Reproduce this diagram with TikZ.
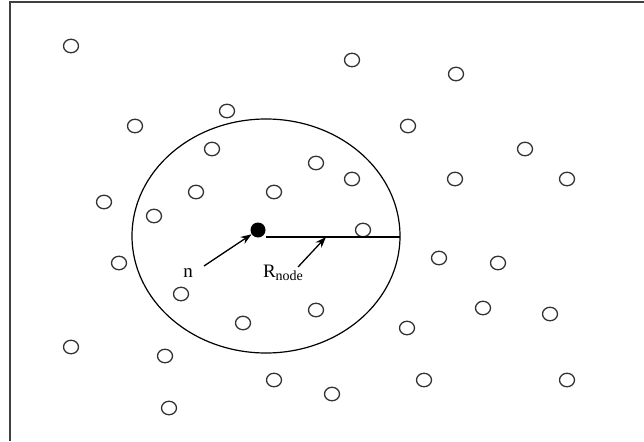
\documentclass[tikz,border=0pt]{standalone}
\usepackage{fontspec}
\setmainfont{Liberation Serif}
\usetikzlibrary{arrows.meta,shapes.geometric}
\begin{document}
\begin{tikzpicture}[x=1pt,y=-1pt,
  sensor/.style={draw=black!80,line width=1.3pt,ellipse,minimum width=15pt,minimum height=13.5pt,inner sep=0pt},
  headnode/.style={fill=black,circle,minimum size=15pt,inner sep=0pt},
  lbl/.style={font=\fontsize{19}{21}\selectfont,inner sep=0pt,anchor=base},
  pointer/.style={-{Stealth[length=11pt,width=8pt]},line width=1.3pt}]
\useasboundingbox (0,0) rectangle (644,441);
\draw[line width=1.6pt,black!75] (644,2) -- (10,2) -- (10,441);
\node[draw,ellipse,line width=1.2pt,minimum width=268pt,minimum height=234pt,inner sep=0pt] (range) at (266,236) {};
\foreach \px/\py [count=\i] in {71/46,352/60,456/74,135/126,227/111,408/126,212/149,316/163,525/149,196/192,274/192,352/179,455/179,567/179,104/202,154/216,363/230,119/263,439/258,498/263,181/294,483/308,550/314,316/310,243/323,407/328,71/347,165/356,274/380,332/394,424/380,567/380,169/408}
  \node[sensor] (p\i) at (\px,\py) {};
\node[headnode] (dot) at (258,230) {};
\coordinate (redge) at (400,237);
\draw[line width=1.3pt] (dot.east |- redge) -- (redge);
\coordinate (rmid) at (326,237);
\node[lbl] (nl) at (188,277) {n};
\node[lbl] (rl) at (283,277) {R\raisebox{-3pt}{\fontsize{14}{15}\selectfont node}};
\coordinate (nstart) at (204,266);
\coordinate (rstart) at (298,267);
\draw[pointer] (nstart) -- (dot);
\draw[pointer] (rstart) -- (rmid);
\end{tikzpicture}
\end{document}
